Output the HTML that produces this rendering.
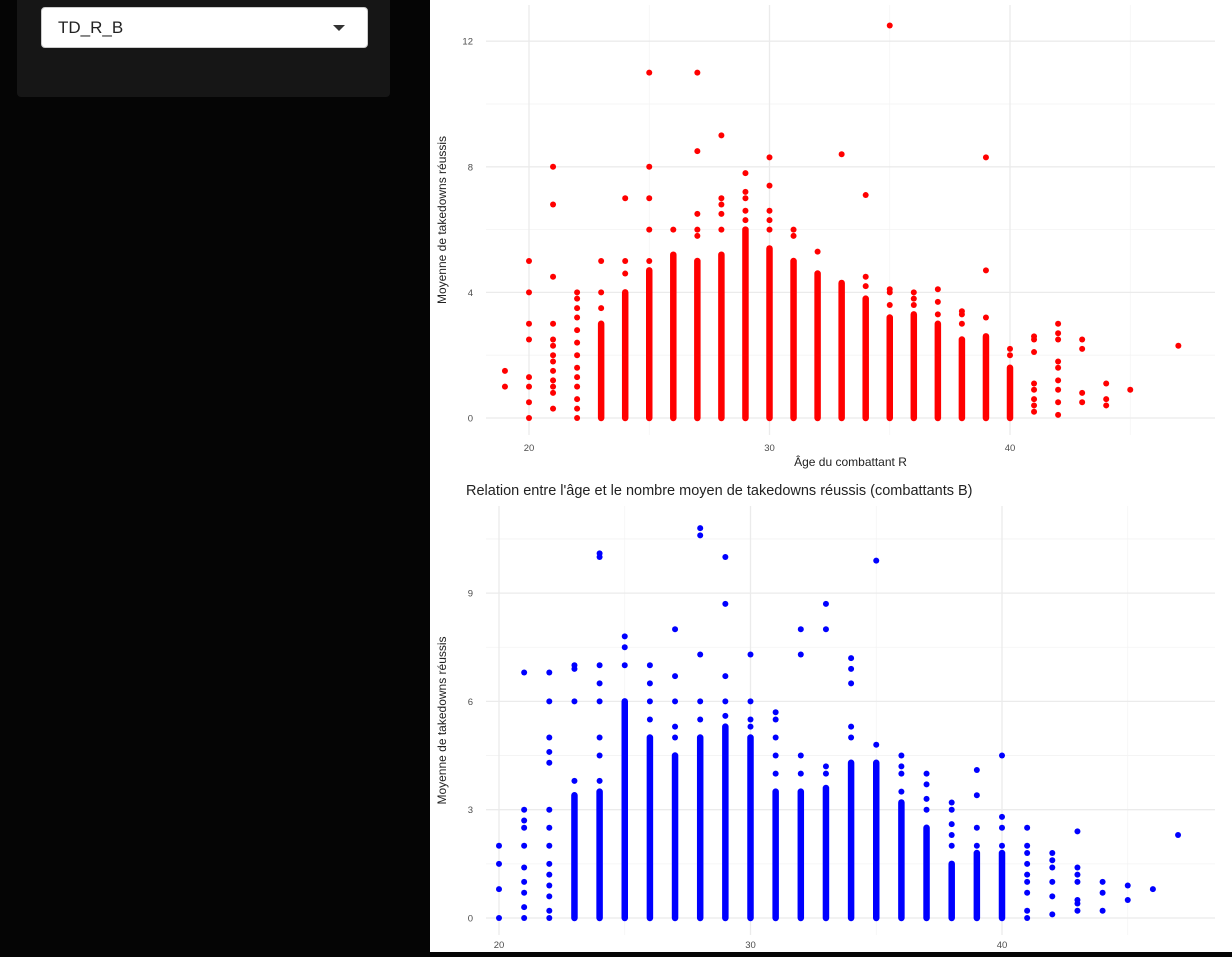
<!DOCTYPE html>
<html><head><meta charset="utf-8"><style>
body{margin:0;width:1232px;height:952px;background:#050505;overflow:hidden;font-family:"Liberation Sans",sans-serif;position:relative}
#side{position:absolute;left:17px;top:0;width:373px;height:97px;background:#161616;border-radius:0 0 4px 4px}
#dd{position:absolute;left:24px;top:7px;width:327px;height:41px;background:#fff;border:1px solid #ccc;border-radius:4px;box-sizing:border-box}
#dd span{position:absolute;left:16px;top:10px;font-size:17px;color:#222}
#dd i{position:absolute;right:22px;top:17px;width:0;height:0;border-left:6px solid transparent;border-right:6px solid transparent;border-top:6px solid #333}
#main{position:absolute;left:430px;top:0;width:802px;height:952px;background:#fff}
</style></head><body>
<div id="side">
<div id="dd"><span>TD_R_B</span><i></i></div></div>
<div id="main">
<svg id="svg" width="802" height="952" xmlns="http://www.w3.org/2000/svg"></svg>
</div>
<script>
// Chart R data: ages, dense column tops, scattered points
const agesR=[19,20,21,22,23,24,25,26,27,28,29,30,31,32,33,34,35,36,37,38,39,40,41,42,43,44,45,47];
const denseR=[0,0,0,0,3,4,4.7,5.2,5,5.2,6,5.4,5,4.6,4.3,3.8,3.2,3.3,3,2.5,2.6,1.6,0,0,0,0,0,0];
const pointsR=[[1.5,1.0],[0,0.5,1,1.3,2.5,3,4,5],[0.3,0.8,1,1.2,1.5,1.8,2,2.3,2.5,3,4.5,6.8,8],[0,0.3,0.6,1,1.3,1.6,2,2.4,2.8,3.2,3.5,3.8,4],[3.5,4,5],[4.6,5,7],[5,6,7,8,11],[6],[5.8,6,6.5,8.5,11],[6,6.5,6.8,7,9],[6.3,6.6,7,7.2,7.8],[6,6.3,6.6,7.4,8.3],[5.8,6],[5.3],[8.4],[4.2,4.5,7.1],[3.6,4,4.1,12.5],[3.6,3.8,4],[3.3,3.7,4.1],[3,3.3,3.4],[3.2,4.7,8.3],[2,2.2],[0.2,0.4,0.6,0.9,1.1,2.1,2.5,2.6],[0.1,0.5,0.9,1.2,1.6,1.8,2.5,2.7,3],[0.5,0.8,2.2,2.5],[0.4,0.6,1.1],[0.9],[2.3]];
// Chart B data
const agesB=[20,21,22,23,24,25,26,27,28,29,30,31,32,33,34,35,36,37,38,39,40,41,42,43,44,45,46,47];
const denseB=[0,0,0,3.4,3.5,6,5,4.5,5,5.3,5,3.5,3.5,3.6,4.3,4.3,3.2,2.5,1.5,1.8,1.8,0,0,0,0,0,0,0];
const pointsB=[[0,0.8,1.5,2],[0,0.3,0.7,1,1.4,2,2.5,2.7,3,6.8],[0,0.2,0.6,0.9,1.2,1.5,2,2.5,3,4.3,4.6,5,6,6.8],[3.8,6,6.9,7],[3.8,4.5,5,6,6.5,7,10,10.1],[7,7.5,7.8],[5.5,6,6.5,7],[5,5.3,6,6.7,8],[5.5,6,7.3,10.6,10.8],[5.6,6,6.7,8.7,10],[5.3,5.5,6,7.3],[4,4.5,5,5.5,5.7],[4,4.5,7.3,8],[4,4.2,8,8.7],[5,5.3,6.5,6.9,7.2],[4.8,9.9],[3.5,4,4.2,4.5],[3,3.3,3.7,4],[2,2.3,2.6,3,3.2],[2,2.5,3.4,4.1],[2,2.5,2.8,4.5],[0,0.2,0.7,1,1.2,1.5,1.8,2,2.5],[0.1,0.6,1,1.4,1.6,1.8],[0.2,0.4,0.5,1,1.2,1.4,2.4],[0.2,0.7,1],[0.5,0.9],[0.8],[2.3]];
const yTicksR=[0,4,8,12], yMinorR=[2,6,10], xTicks=[20,30,40], xMinor=[25,35,45];
const yTicksB=[0,3,6,9], yMinorB=[1.5,4.5,7.5,10.5];
const NS='http://www.w3.org/2000/svg', svg=document.getElementById('svg');
function mk(t,a,p){const e=document.createElementNS(NS,t);for(const k in a)e.setAttribute(k,a[k]);(p||svg).appendChild(e);return e;}
function chart(cfg){
  const g=mk('g',{});
  
  
  const X=v=>cfg.x0+(v-20)*cfg.xs, Y=v=>cfg.y0-v*cfg.ys;
  cfg.yMinor.forEach(v=>mk('line',{x1:cfg.l,x2:cfg.r,y1:Y(v),y2:Y(v),stroke:'#f3f3f3','stroke-width':0.8},g));
  xMinor.forEach(v=>mk('line',{x1:X(v),x2:X(v),y1:cfg.t,y2:cfg.b,stroke:'#f3f3f3','stroke-width':0.8},g));
  cfg.yTicks.forEach(v=>{mk('line',{x1:cfg.l,x2:cfg.r,y1:Y(v),y2:Y(v),stroke:'#ebebeb','stroke-width':1.3},g);
    const t=mk('text',{x:cfg.l-13,y:Y(v)+3.5,'text-anchor':'end','font-size':9.5,fill:'#4d4d4d'},g);t.textContent=v;
    
    });
  xTicks.forEach(v=>{mk('line',{x1:X(v),x2:X(v),y1:cfg.t,y2:cfg.b,stroke:'#ebebeb','stroke-width':1.3},g);
    const t=mk('text',{x:X(v),y:cfg.xl,'text-anchor':'middle','font-size':9.5,fill:'#4d4d4d'},g);t.textContent=v;
    
    });
  cfg.ages.forEach((a,i)=>{
    if(cfg.dense[i]>0){const c=mk('line',{x1:X(a),x2:X(a),y1:Y(0),y2:Y(cfg.dense[i]),stroke:cfg.col,'stroke-width':6.5,'stroke-linecap':'round'},g);
      
      }
    cfg.pts[i].forEach(v=>{const c=mk('circle',{cx:X(a),cy:Y(v),r:3,fill:cfg.col},g);
      
      });
  });
  const yt=mk('text',{transform:`translate(${cfg.yx},${(cfg.t+cfg.b)/2}) rotate(-90)`,'text-anchor':'middle','font-size':12,fill:'#222'},g);
  yt.textContent='Moyenne de takedowns réussis';
  
  
  if(cfg.xt){const t=mk('text',{x:(cfg.l+cfg.r)/2,y:cfg.xt,'text-anchor':'middle','font-size':12,fill:'#222'},g);t.textContent='Âge du combattant R';
    
    }
  if(cfg.title){const t=mk('text',{x:36,y:cfg.title,'font-size':14.5,fill:'#222'},g);t.textContent='Relation entre l\'âge et le nombre moyen de takedowns réussis (combattants B)';
    
    }
}
chart({name:'chart-r',ages:agesR,dense:denseR,pts:pointsR,col:'#ff0000',x0:99,xs:24.05,y0:418,ys:31.4,l:56,r:785,t:5,b:435,xl:451,xt:466,yTicks:yTicksR,yMinor:yMinorR,yx:16});
chart({name:'chart-b',ages:agesB,dense:denseB,pts:pointsB,col:'#0000ff',x0:69,xs:25.15,y0:918,ys:36.1,l:56,r:785,t:506,b:935,xl:948,yTicks:yTicksB,yMinor:yMinorB,yx:16,title:495});
</script>
</body></html>
